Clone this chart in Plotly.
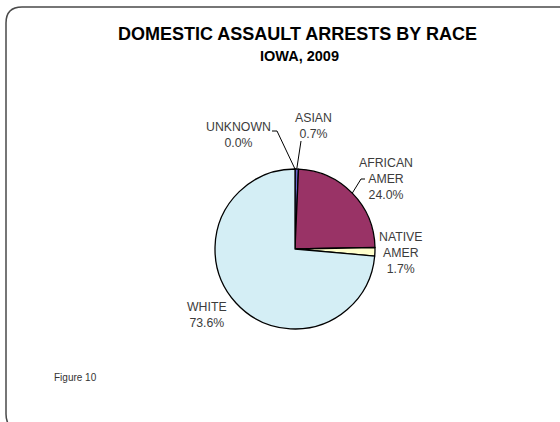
import math
import plotly.graph_objects as go

# Arrest shares by race, Iowa 2009 (percent), in clockwise order from 12 o'clock
races = ["UNKNOWN", "ASIAN", "AFRICAN<br>AMER", "NATIVE<br>AMER", "WHITE"]
shares = [0.0, 0.7, 24.0, 1.7, 73.6]
colors = ["#808080", "#6666CC", "#993366", "#FFFFCC", "#D4EEF5"]

W, H = 560, 422
# pie placement in pixels
CX, CY, R = 295, 249, 80


def px(x):
    return x / W


def py(y):
    return 1 - y / H


fig = go.Figure()
fig.add_trace(go.Pie(
    labels=[r.replace("<br>", " ") for r in races],
    values=shares,
    sort=False,
    direction="clockwise",
    rotation=0,
    textinfo="none",
    hoverinfo="label+percent",
    marker=dict(colors=colors, line=dict(color="#000000", width=1.3)),
    domain=dict(x=[px(CX - R), px(CX + R)], y=[py(CY + R), py(CY - R)]),
    showlegend=False,
))

# angle (deg, clockwise from top) at the middle of each slice
total = sum(shares)
mids = []
acc = 0.0
for v in shares:
    mids.append((acc + v / 2) / total * 360)
    acc += v


def edge(i):
    a = math.radians(mids[i])
    return CX + R * math.sin(a), CY - R * math.cos(a)


# label text positions (pixel centres) and leader-line bends
label_pos = [(238, 135), (313, 126), (386, 179), (401, 253), (207, 315)]
leader_bends = {
    0: [(277, 131), (272, 131)],
    1: [(301, 141)],
    2: [(361, 179), (365, 179)],
}

shapes = []
for i, pts in leader_bends.items():
    ex, ey = edge(i)
    path = f"M {px(ex)},{py(ey)}"
    for bx, by in pts:
        path += f" L {px(bx)},{py(by)}"
    shapes.append(dict(type="path", xref="paper", yref="paper", path=path,
                       line=dict(color="#000000", width=1)))

# rounded chart frame
L, T, Rr, B, rad = 6, 7, 580, 430, 16
frame = (f"M {px(L)},{py(B - rad)} L {px(L)},{py(T + rad)} "
         f"Q {px(L)},{py(T)} {px(L + rad)},{py(T)} L {px(Rr - rad)},{py(T)} "
         f"Q {px(Rr)},{py(T)} {px(Rr)},{py(T + rad)} L {px(Rr)},{py(B - rad)} "
         f"Q {px(Rr)},{py(B)} {px(Rr - rad)},{py(B)} L {px(L + rad)},{py(B)} "
         f"Q {px(L)},{py(B)} {px(L)},{py(B - rad)} Z")
shapes.append(dict(type="path", xref="paper", yref="paper", path=frame,
                   line=dict(color="#4a4a4a", width=1.5), layer="below"))

annotations = [
    dict(text="<b>DOMESTIC ASSAULT ARRESTS BY RACE</b>", x=px(297), y=py(34),
         font=dict(size=18, color="#000000")),
    dict(text="<b>IOWA, 2009</b>", x=px(299), y=py(56),
         font=dict(size=14.5, color="#000000")),
    dict(text="Figure 10", x=px(75), y=py(377),
         font=dict(size=10, color="#333333")),
]
for i, (lx, ly) in enumerate(label_pos):
    annotations.append(dict(
        text=f"{races[i]}<br>{shares[i]:.1f}%", x=px(lx), y=py(ly),
        font=dict(size=12.3, color="#3c3c3c"), align="center"))

for a in annotations:
    a.update(xref="paper", yref="paper", showarrow=False,
             xanchor="center", yanchor="middle")

fig.update_layout(
    width=W, height=H,
    margin=dict(l=0, r=0, t=0, b=0),
    paper_bgcolor="#FFFFFF",
    plot_bgcolor="#FFFFFF",
    font=dict(family="Liberation Sans, Arial, sans-serif"),
    shapes=shapes,
    annotations=annotations,
)

fig.write_html("out.html")
